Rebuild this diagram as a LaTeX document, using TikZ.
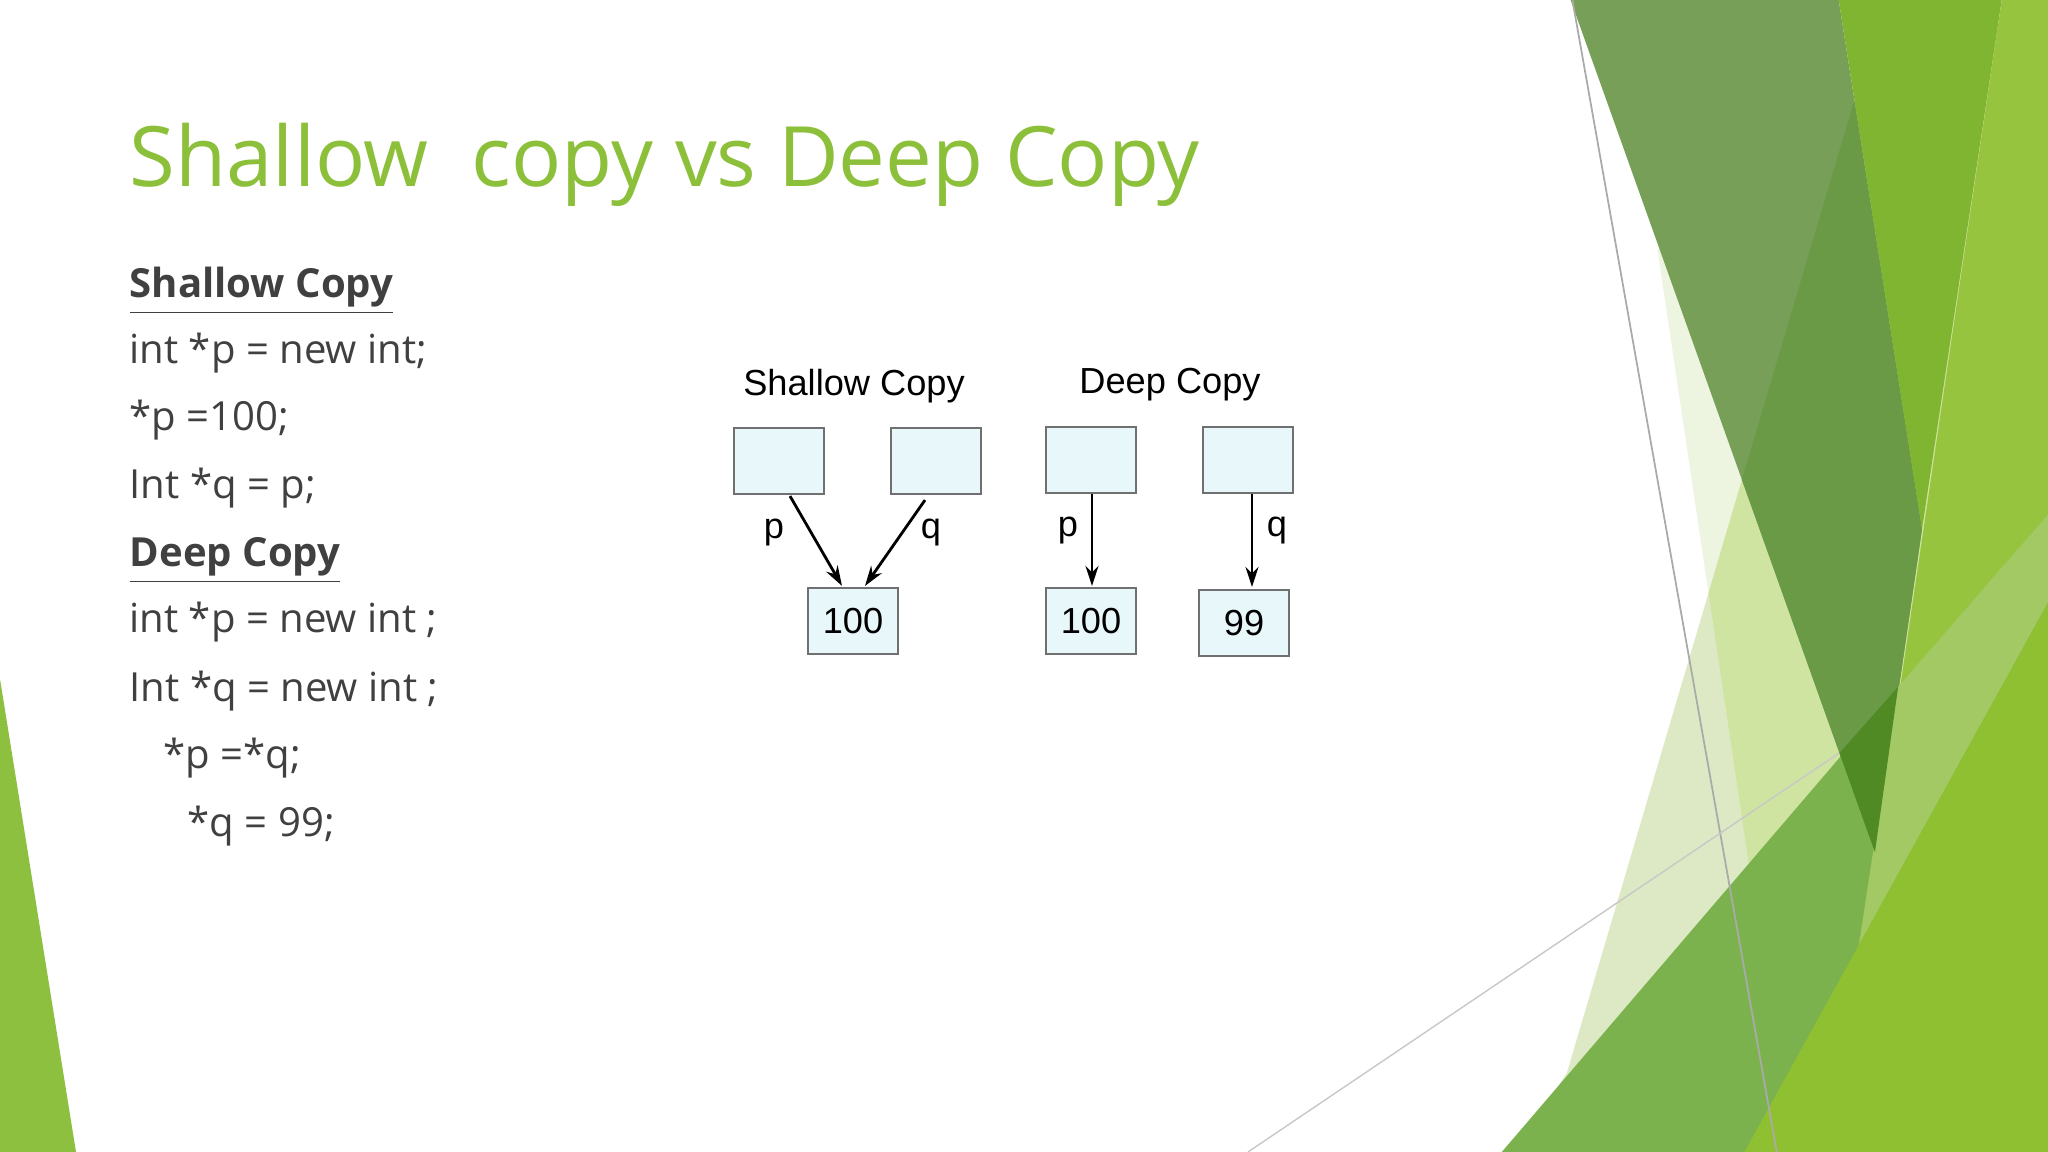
\documentclass[tikz,border=0pt]{standalone}
\usepackage{fontspec}
\setmainfont{Open Sans}
\newfontfamily\arialf{Liberation Sans}
\usetikzlibrary{arrows.meta,calc}
\definecolor{titlegreen}{HTML}{8CBF3A}
\definecolor{bodygray}{HTML}{404040}
\definecolor{boxfill}{HTML}{E8F7FA}
\definecolor{boxline}{HTML}{707070}
\tikzset{
  membox/.style={draw=boxline,fill=boxfill,line width=0.6pt,minimum width=0.9cm,minimum height=0.66cm,inner sep=0pt,font=\arialf\fontsize{10.3}{12}\selectfont},
  ptr/.style={line width=0.8pt,-{Stealth[length=0.2cm,width=0.13cm]}},
  lbl/.style={font=\arialf\fontsize{10.3}{12}\selectfont,inner sep=0pt},
  body/.style={anchor=base west,inner sep=0pt,text=bodygray,font=\fontsize{11.4}{13}\selectfont},
}
\begin{document}
\begin{tikzpicture}[x=0.01cm,y=-0.01cm]
\useasboundingbox (0,0) rectangle (2048,1152);
\fill[white] (0,0) rectangle (2048,1152);
% decorative background, right side (zoom coordinates)
\begin{scope}[shift={(1480,0)},xscale=0.3623,yscale=0.7347]
 \fill[color={rgb,255:red,237;green,244;blue,224}] (490,340) -- (860,1568) -- (1568,1568) -- (1568,0) -- cycle;
 \fill[color={rgb,255:red,221;green,233;blue,196}] (1030,140) -- (240,1460) -- (100,1568) -- (1568,1568) -- (1568,0) -- cycle;
 \fill[color={rgb,255:red,207;green,228;blue,160}] (631,807) -- (1030,140) -- (1568,0) -- (1568,1568) -- (860,1568) -- cycle;
 \fill[color={rgb,255:red,119;green,159;blue,88}] (250,0) -- (990,0) -- (1220,720) -- (1090,1160) -- cycle;
 \fill[color={rgb,255:red,106;green,154;blue,69}] (1033,137) -- (1220,720) -- (1090,1160) -- (723,653) -- cycle;
 \fill[color={rgb,255:red,128;green,181;blue,50}] (990,0) -- (1440,0) -- (1220,720) -- cycle;
 \fill[color={rgb,255:red,151;green,196;blue,62}] (1440,0) -- (1568,0) -- (1568,1568) -- (970,1568) -- cycle;
 \fill[color={rgb,255:red,123;green,178;blue,77}] (60,1568) -- (1568,700) -- (1568,1568) -- cycle;
 \fill[color={rgb,255:red,163;green,201;blue,101}] (1154,935) -- (1568,700) -- (1568,820) -- (1046,1286) -- cycle;
 \fill[color={rgb,255:red,79;green,138;blue,37}] (992,1025) -- (1154,935) -- (1090,1160) -- cycle;
 \fill[color={rgb,255:red,143;green,192;blue,49}] (730,1568) -- (1568,820) -- (1568,1568) -- cycle;
 \draw[color={rgb,255:red,170;green,170;blue,170},line width=0.5pt] (255,0) -- (819,1568);
\end{scope}
\draw[color={rgb,255:red,200;green,200;blue,200},line width=0.4pt] (1248,1152) -- (1839,753);
\fill[color={rgb,255:red,141;green,192;blue,63}] (0,679) -- (76,1152) -- (0,1152) -- cycle;
% title
\node[anchor=base west,inner sep=0pt,text=titlegreen,font=\fontsize{23.7}{28}\selectfont] (title) at (129,187) {Shallow\ \ copy vs Deep Copy};
% code text
\node[body,font=\bfseries\fontsize{11.4}{13}\selectfont] (h1) at (129,298) {\underline{Shallow Copy}};
\node[body] (c1) at (129,364) {int *p = new int;};
\node[body] (c2) at (129,431) {*p =100;};
\node[body] (c3) at (129,499) {Int *q = p;};
\node[body,font=\bfseries\fontsize{11.4}{13}\selectfont] (h2) at (129,567) {\underline{Deep Copy}};
\node[body] (c4) at (129,633) {int *p = new int ;};
\node[body] (c5) at (129,701) {Int *q = new int ;};
\node[body] (c6) at (163,768) {*p =*q;};
\node[body] (c7) at (187,836) {*q = 99;};
% diagram
\node[lbl,anchor=base] (t1) at (854,396) {Shallow Copy};
\node[lbl,anchor=base] (t2) at (1170,394) {Deep Copy};
\node[membox] (s1) at (779,461) {};
\node[membox] (s2) at (936,461) {};
\node[membox] (s3) at (1091,460) {};
\node[membox] (s4) at (1248,460) {};
\node[membox] (b1) at (853,621) {100};
\node[membox] (b2) at (1091,621) {100};
\node[membox] (b3) at (1244,623) {99};
\draw[ptr] ($(s1.south)+(11,1)$) -- ($(b1.north)+(-11,-1)$);
\draw[ptr] ($(s2.south)+(-11,5)$) -- ($(b1.north)+(12,-1)$);
\draw[ptr] ($(s3.south)+(1,0)$) -- ($(b2.north)+(1,-1)$);
\draw[ptr] ($(s4.south)+(4,0)$) -- ($(b3.north)+(8,-2)$);
\node[lbl] (lp1) at (774,533) {p};
\node[lbl] (lq1) at (931,533) {q};
\node[lbl] (lp2) at (1068,531) {p};
\node[lbl] (lq2) at (1277,531) {q};
\end{tikzpicture}
\end{document}
